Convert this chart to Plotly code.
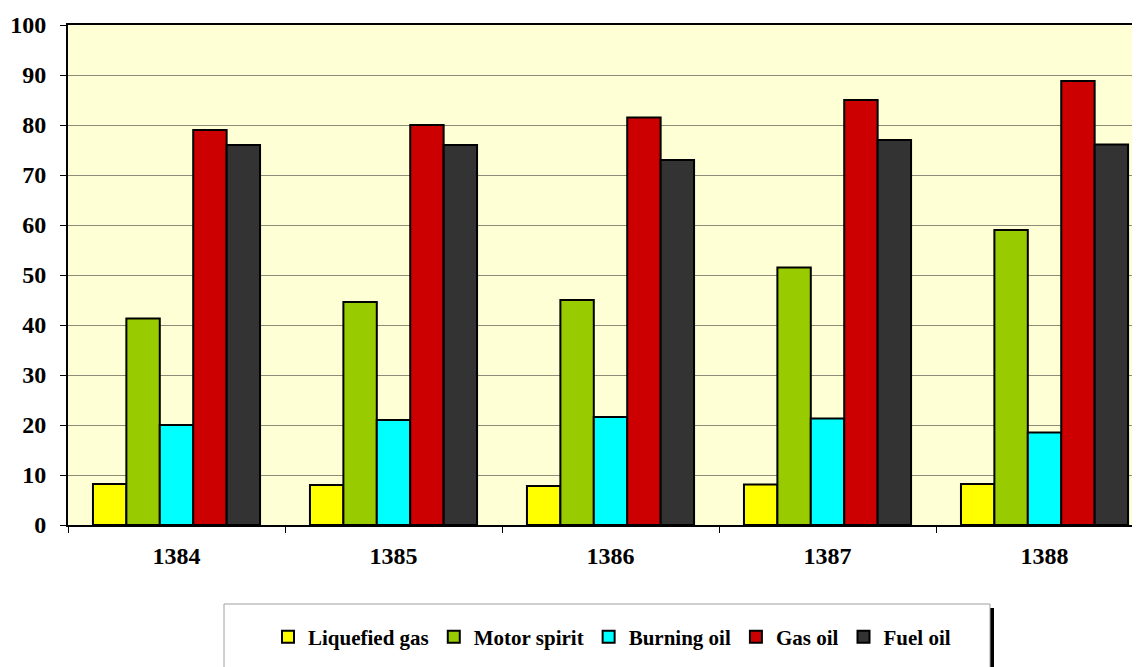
import plotly.graph_objects as go

years = ["1384", "1385", "1386", "1387", "1388"]
liquefied_gas = [8.2, 8.0, 7.8, 8.1, 8.2]
motor_spirit = [41.3, 44.6, 45.0, 51.5, 59.0]
burning_oil = [20.0, 21.0, 21.6, 21.3, 18.5]
gas_oil = [79.0, 80.0, 81.5, 85.0, 88.8]
fuel_oil = [76.0, 76.0, 73.0, 77.0, 76.1]

series = [
    ("Liquefied gas", liquefied_gas, "#FFFF00"),
    ("Motor spirit", motor_spirit, "#99CC00"),
    ("Burning oil", burning_oil, "#00FFFF"),
    ("Gas oil", gas_oil, "#CC0000"),
    ("Fuel oil", fuel_oil, "#333333"),
]

FONT = "Liberation Serif, Times New Roman, serif"

fig = go.Figure()
for name, vals, color in series:
    fig.add_trace(go.Bar(
        x=years, y=vals, name=name,
        marker=dict(color=color, line=dict(color="black", width=2)),
    ))

# page body adds an 8px offset; figure is sized to fill the rest of the window
W, H = 1132, 659
L, R, T, B = 60, 0, 17, 142
pw, ph = W - L - R, H - T - B

def px(x):  # screen x -> paper
    return (x - 68) / pw

def py(y):  # screen y -> paper
    return (525 - y) / ph

fig.update_layout(
    width=W, height=H,
    margin=dict(l=L, r=R, t=T, b=B, pad=0),
    paper_bgcolor="white",
    plot_bgcolor="#FFFFD5",
    barmode="group",
    bargap=0.23,
    bargroupgap=0,
    font=dict(family=FONT, color="black", size=16),
    showlegend=True,
    legend=dict(
        orientation="h",
        x=px(612), xanchor="center",
        y=py(637), yanchor="middle",
        bgcolor="rgba(0,0,0,0)",
        font=dict(family=FONT, size=21, color="black", weight="bold"),
        traceorder="normal",
    ),
    xaxis=dict(
        type="category",
        range=[-0.5, 4.44],
        showline=True, linecolor="black", linewidth=2, mirror=True,
        ticks="outside", tickson="boundaries", ticklen=6, tickcolor="black", tickwidth=1,
        tickfont=dict(family=FONT, size=24, color="black", weight="bold"),
        ticklabelstandoff=8,
        showgrid=False,
        zeroline=False,
    ),
    yaxis=dict(
        range=[0, 100],
        tickvals=[0, 10, 20, 30, 40, 50, 60, 70, 80, 90, 100],
        showline=True, linecolor="black", linewidth=2,
        ticks="outside", ticklen=6, tickcolor="black", tickwidth=1,
        tickfont=dict(family=FONT, size=24, color="black", weight="bold"),
        showgrid=True, gridcolor="#8C8C78", gridwidth=1,
        zeroline=False,
        ticklabelstandoff=9,
    ),
    shapes=[
        dict(type="rect", xref="paper", yref="paper",
             x0=px(990), x1=px(994), y0=py(608), y1=py(680),
             fillcolor="black", line=dict(width=0), layer="below"),
        dict(type="rect", xref="paper", yref="paper",
             x0=px(224), x1=px(990), y0=py(604), y1=py(680),
             fillcolor="white", line=dict(color="#A0A0A0", width=1), layer="below"),
    ],
)

fig.write_html("out.html")
